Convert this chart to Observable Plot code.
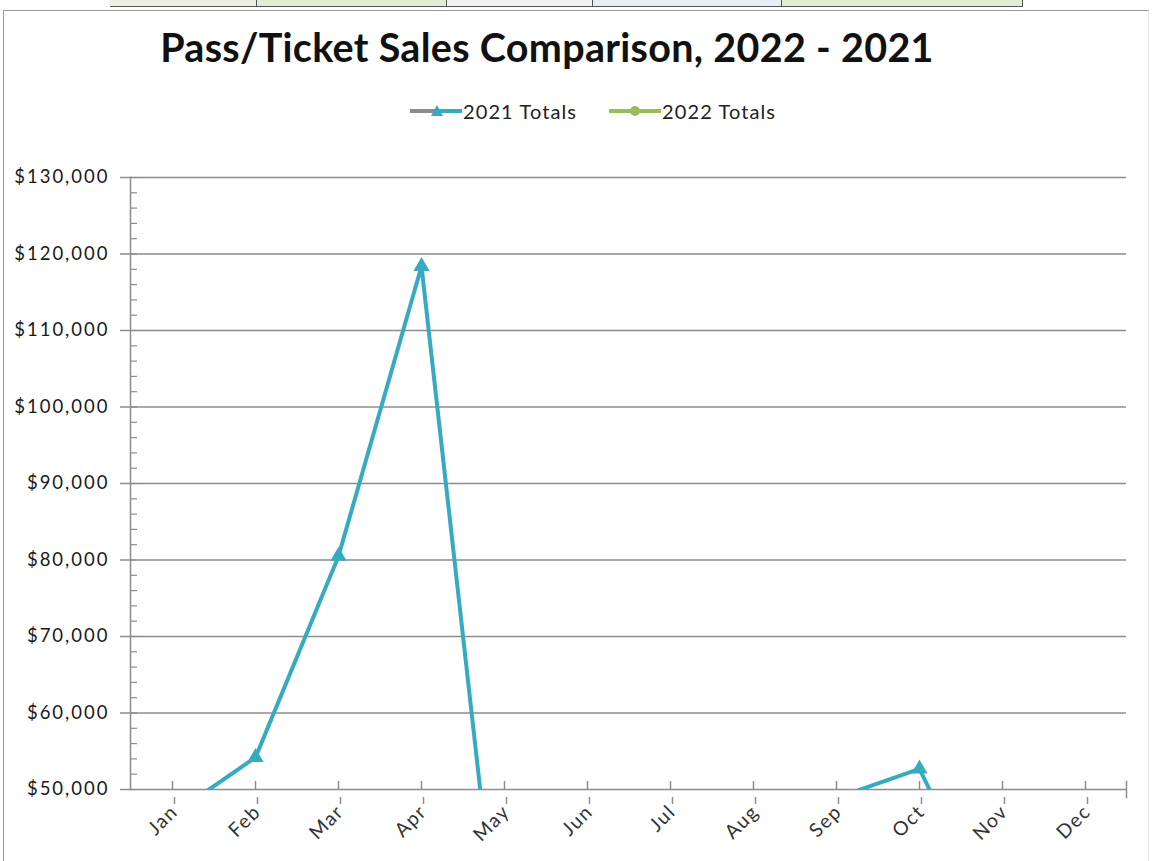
<!DOCTYPE html>
<html>
<head>
<meta charset="utf-8">
<script src="https://cdn.jsdelivr.net/npm/d3@7"></script>
<script src="https://cdn.jsdelivr.net/npm/@observablehq/plot@0.6"></script>
<style>
  html, body { margin: 0; padding: 0; background: #fff; }
  #page { position: relative; width: 1159px; height: 861px; overflow: hidden; font-family: Lato, "Open Sans", sans-serif; }
  #strip { position: absolute; top: 0; left: 110px; height: 6px; display: flex; border-bottom: 1.5px solid #555; }
  #strip div { height: 6px; border-right: 1.5px solid #555; box-sizing: border-box; }
  #frame { position: absolute; left: 3px; top: 10px; width: 1144px; height: 860px; border-left: 1.5px solid #9a9a9a; border-top: 1.5px solid #9a9a9a; border-right: 1px solid #e4e4e4; }
  #title { position: absolute; top: 23px; left: 0; width: 1094px; text-align: center; font-weight: 700; font-size: 39.5px; color: #111; letter-spacing: 0.3px; }
  #legend { position: absolute; top: 99px; left: 410px; display: flex; align-items: center; font-size: 20px; color: #222; letter-spacing: 1.1px; }
  #legend .item { display: flex; align-items: center; margin-right: 32px; }
  #legend svg { margin-right: 1px; }
  #chart { position: absolute; top: 150px; left: 0; }
  #chart svg text { letter-spacing: 2px; }
  #chart svg g[aria-label="x-axis tick label"] text { font-size: 19.5px; letter-spacing: 1.5px; }
</style>
</head>
<body>
<div id="page">
  <div id="strip"></div>
  <div id="frame"></div>
  <div id="title">Pass/Ticket Sales Comparison, 2022 - 2021</div>
  <div id="legend"></div>
  <div id="chart"></div>
</div>
<script>
// ---- data ----
const months = ["Jan","Feb","Mar","Apr","May","Jun","Jul","Aug","Sep","Oct","Nov","Dec"];
const series = ["2021 Totals", "2022 Totals"];
// Values below $50,000 are cut off by the axis; those that can't be read at all are null.
const totals2021 = [46700, 54200, 80500, 118400, 21700, null, null, null, 48900, 52700, 30200, null];
const totals2022 = [null, null, null, null, null, null, null, null, null, null, null, null];
const yMajorTicks = [50000, 60000, 70000, 80000, 90000, 100000, 110000, 120000, 130000];
const yMinorTicks = d3.range(50000, 130001, 2000);

const colors = { "2021 Totals": "#36abc0", "2022 Totals": "#9bbb59" };

const rows2021 = months.map((m, i) => ({ month: m, value: totals2021[i], series: series[0] }));
const rows2022 = months.map((m, i) => ({ month: m, value: totals2022[i], series: series[1] }));

// ---- top cut-off table strip ----
const stripCells = [
  { w: 147, c: "#eef0e6" }, { w: 190, c: "#e3ebd0" }, { w: 146, c: "#f3f3f3" },
  { w: 189, c: "#e8eef5" }, { w: 241, c: "#e3ebd0" }
];
const strip = document.getElementById("strip");
stripCells.forEach(s => {
  const d = document.createElement("div");
  d.style.width = s.w + "px";
  d.style.background = s.c;
  strip.appendChild(d);
});

// ---- legend ----
const legend = document.getElementById("legend");
series.forEach((s, i) => {
  const item = document.createElement("div");
  item.className = "item";
  const sw = i === 0
    ? `<svg width="52" height="16"><line x1="0" y1="8" x2="28" y2="8" stroke="#8c8c8c" stroke-width="4"/><line x1="26" y1="8" x2="52" y2="8" stroke="${colors[s]}" stroke-width="4"/><path d="M27,2 L33,13 L21,13 Z" fill="${colors[s]}"/></svg>`
    : `<svg width="52" height="16"><line x1="0" y1="8" x2="52" y2="8" stroke="${colors[s]}" stroke-width="4"/><circle cx="26" cy="8" r="5" fill="${colors[s]}"/></svg>`;
  item.innerHTML = sw + `<span>${s}</span>`;
  legend.appendChild(item);
});

// ---- chart ----
const grid = "#8c8c8c";
const chart = Plot.plot({
  width: 1159,
  height: 711,
  marginTop: 27,
  marginBottom: 72,
  marginLeft: 130,
  marginRight: 33,
  style: { fontFamily: "Lato, 'Open Sans', sans-serif", fontSize: "18.5px", color: "#222", background: "transparent" },
  x: { type: "point", domain: months, padding: 0.5 },
  y: { domain: [50000, 130000] },
  marks: [
    Plot.ruleY(yMajorTicks, { stroke: grid, strokeWidth: 1.5 }),
    Plot.ruleY(yMinorTicks, { stroke: grid, strokeWidth: 1.2, insetRight: 989 }),
    Plot.ruleX(months, { stroke: grid, strokeWidth: 1.5, insetTop: 604 }),
    Plot.frame({ anchor: "left", stroke: grid, strokeWidth: 1.5 }),
    Plot.frame({ anchor: "right", stroke: grid, strokeWidth: 1.5, insetTop: 604, insetBottom: -8 }),
    Plot.axisY({ ticks: yMajorTicks, tickSize: 10, tickPadding: 11, stroke: grid, strokeWidth: 1.5,
      tickFormat: d => "$" + d3.format(",")(d), label: null, fill: "#1a1a1a" }),
    Plot.axisX({ tickSize: 7, tickRotate: -45, tickPadding: 4, dx: 2, dy: 8, stroke: grid, strokeWidth: 1.5, label: null, fill: "#333" }),
    Plot.line(rows2022, { x: "month", y: "value", stroke: colors[series[1]], strokeWidth: 4, clip: true }),
    Plot.line(rows2021, { x: "month", y: "value", stroke: colors[series[0]], strokeWidth: 4, clip: true }),
    Plot.dot(rows2021, { x: "month", y: "value", symbol: "triangle", r: 6, fill: colors[series[0]], clip: true })
  ]
});
document.getElementById("chart").appendChild(chart);
</script>
</body>
</html>
